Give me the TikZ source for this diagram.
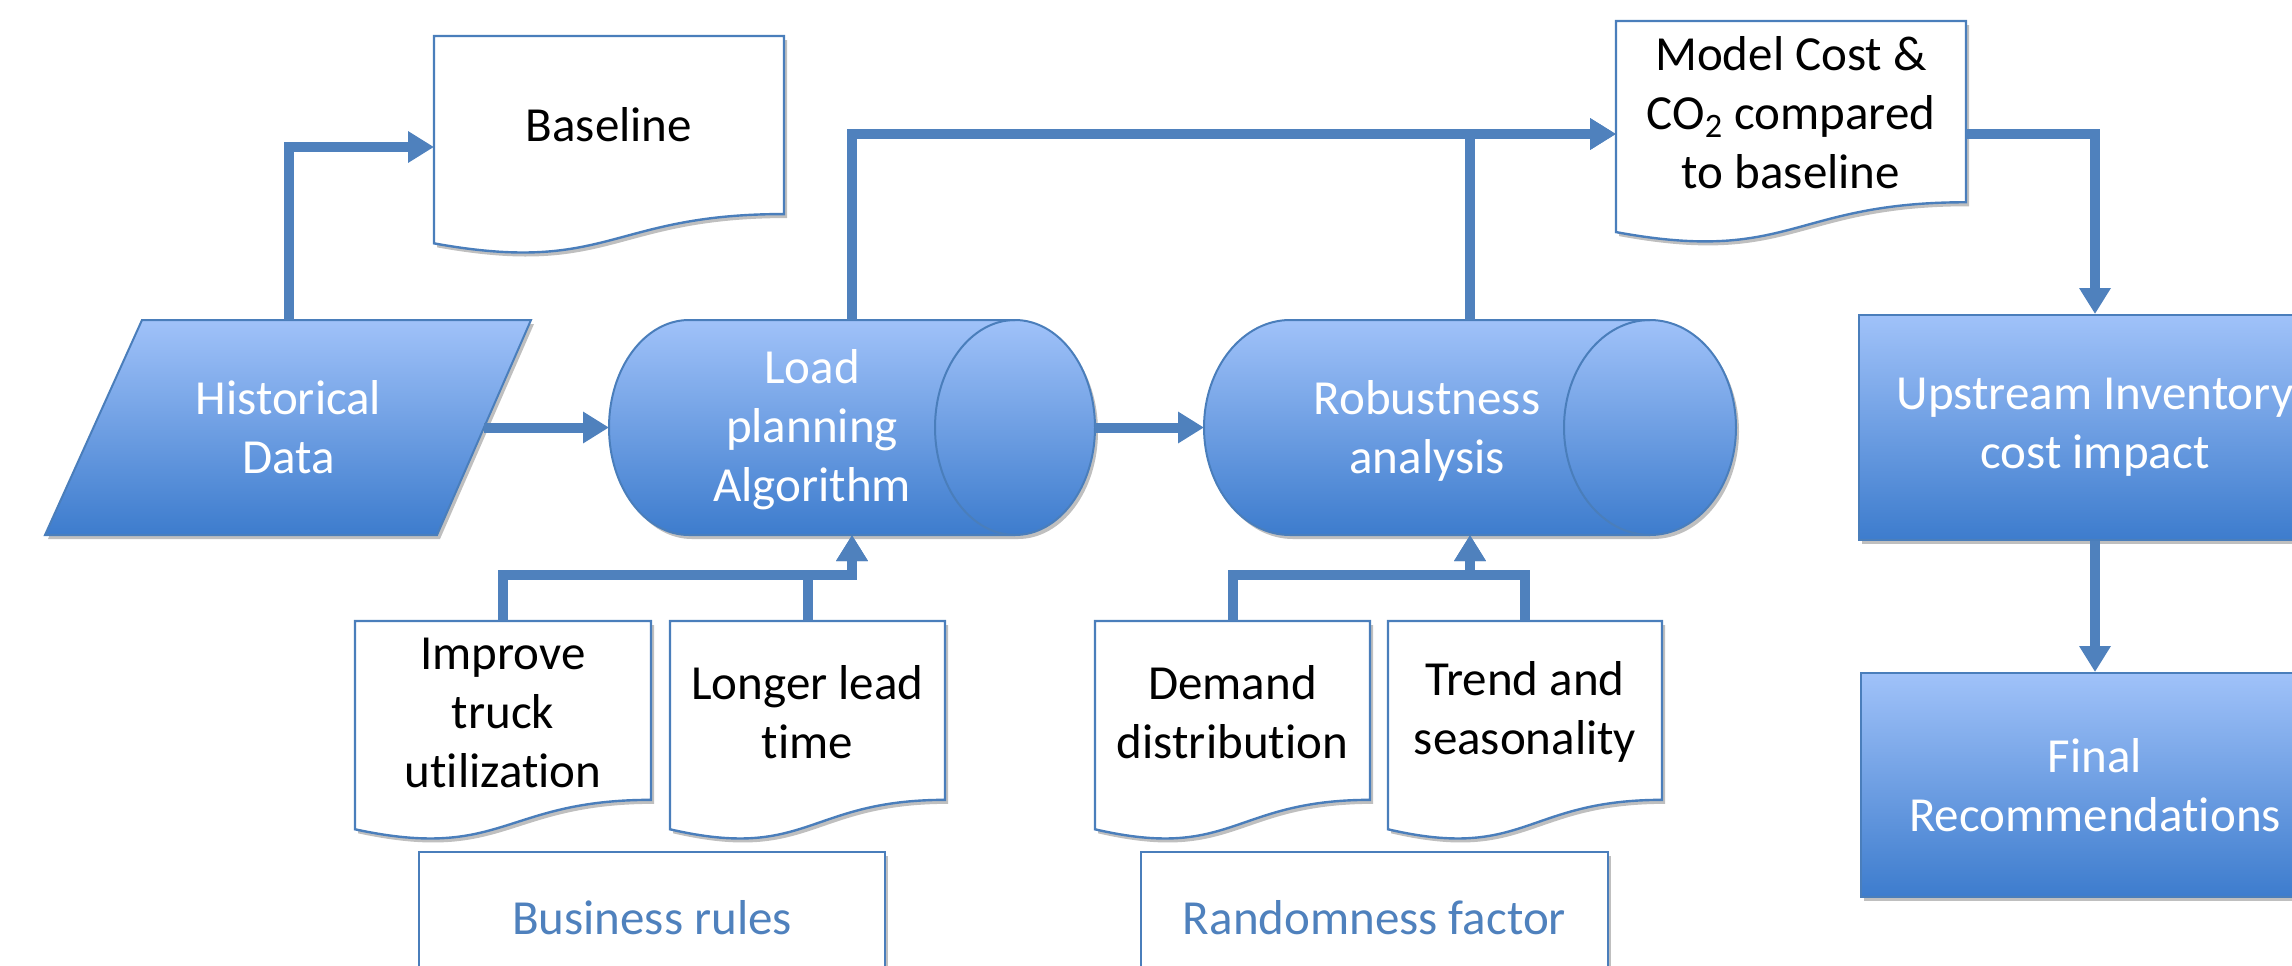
\documentclass[tikz,border=0pt]{standalone}
\usepackage{fontspec}
\setmainfont[Ligatures=NoCommon]{Carlito}
\usetikzlibrary{arrows.meta,shadows}
\definecolor{lineblue}{HTML}{4F81BD}
\definecolor{borderblue}{HTML}{4A7EBB}
\definecolor{gradtop}{HTML}{A0C2F9}
\definecolor{gradbot}{HTML}{3D7CCD}
\tikzset{
  conn/.style={line width=5pt, draw=lineblue, -{Triangle[width=15pt,length=13pt]}},
  shade/.style={drop shadow={shadow xshift=1.5pt,shadow yshift=-2pt,opacity=0.25,fill=black}},
  blueshape/.style={draw=borderblue, line width=1pt, top color=gradtop, bottom color=gradbot, shade},
  docshape/.style={draw=borderblue, line width=1.2pt, fill=white, shade},
  txt/.style={font=\fontsize{24.5}{29.5}\selectfont, align=center, inner sep=0pt},
  wtxt/.style={txt, text=white},
  anchorbox/.style={inner sep=0pt, outer sep=0pt, draw=none, fill=none},
}
\newcommand\cylpath[5]{% L R T B rx
 \path[blueshape] ({#1+#5},#3) -- ({#2-#5},#3)
   .. controls ({#2-#5+0.5523*#5},#3) and (#2,{(#3+#4)/2-0.5523*(#4-#3)/2}) .. (#2,{(#3+#4)/2})
   .. controls (#2,{(#3+#4)/2+0.5523*(#4-#3)/2}) and ({#2-#5+0.5523*#5},#4) .. ({#2-#5},#4)
   -- ({#1+#5},#4)
   .. controls ({#1+#5-0.5523*#5},#4) and (#1,{(#3+#4)/2+0.5523*(#4-#3)/2}) .. (#1,{(#3+#4)/2})
   .. controls (#1,{(#3+#4)/2-0.5523*(#4-#3)/2}) and ({#1+#5-0.5523*#5},#3) .. ({#1+#5},#3) -- cycle;
 \draw[draw=borderblue, line width=1pt] ({#2-#5},#3)
   .. controls ({#2-#5-0.5523*#5},#3) and ({#2-2*#5},{(#3+#4)/2-0.5523*(#4-#3)/2}) .. ({#2-2*#5},{(#3+#4)/2})
   .. controls ({#2-2*#5},{(#3+#4)/2+0.5523*(#4-#3)/2}) and ({#2-#5-0.5523*#5},#4) .. ({#2-#5},#4);
}
\newcommand\docpath[4]{% L T R H
 \path[docshape] (#1,#2) -- (#3,#2) -- (#3,{#2+0.802*#4})
   .. controls ({(#1+#3)/2},{#2+0.802*#4}) and ({(#1+#3)/2},{#2+1.077*#4}) .. (#1,{#2+0.934*#4}) -- cycle;
}
\begin{document}
\begin{tikzpicture}[x=0.5pt,y=-0.5pt]
\useasboundingbox (0,0) rectangle (2292,965);
\clip (0,0) rectangle (2292,965);

% Historical data (parallelogram)
\path[blueshape] (142,320) -- (531,320) -- (437,535) -- (45,535) -- cycle;
\node[anchorbox, wtxt, minimum width=195.5pt, minimum height=107.5pt] (hist) at (288.5,427.5) {Historical\\Data};

% Baseline document
\docpath{434}{36}{784}{222}
\node[anchorbox, minimum width=175pt, minimum height=111pt] (baseline) at (609,147) {};
\node[txt] (baselinetxt) at (609,125) {Baseline};

% Load planning cylinder
\cylpath{609}{1095}{320}{535}{80}
\node[anchorbox, minimum width=243pt, minimum height=107.5pt] (load) at (852,427.5) {};
\node[wtxt] (loadtxt) at (812,430) {Load\\planning\\Algorithm};

% Robustness cylinder
\cylpath{1204}{1736}{320}{535}{86}
\node[anchorbox, minimum width=266pt, minimum height=107.5pt] (rob) at (1470,427.5) {};
\node[wtxt] (robtxt) at (1427,431) {Robustness\\analysis};

% Model cost document
\docpath{1616}{21}{1966}{226}
\node[anchorbox, minimum width=175pt, minimum height=113pt] (model) at (1791,134) {};
\node[txt] (modeltxt) at (1791,113) {Model Cost \&\\CO\textsubscript{2} compared\\to baseline};

% Upstream inventory and final boxes
\node[blueshape, wtxt, minimum width=236pt, minimum height=112.5pt] (up) at (2095,427.5) {Upstream Inventory\\cost impact};
\node[blueshape, wtxt, minimum width=234pt, minimum height=112pt] (final) at (2095,785) {Final\\Recommendations};

% Business rule documents
\docpath{355}{621}{651}{223}
\node[anchorbox, minimum width=148pt, minimum height=111.5pt] (improve) at (503,732.5) {};
\node[txt] (improvetxt) at (503,713) {Improve\\truck\\utilization};
\docpath{670}{621}{945}{223}
\node[anchorbox, minimum width=137.5pt, minimum height=111.5pt] (longer) at (807.5,732.5) {};
\node[txt] (longertxt) at (807.5,712) {Longer lead\\time};

% Randomness documents
\docpath{1095}{621}{1370}{223}
\node[anchorbox, minimum width=137.5pt, minimum height=111.5pt] (demand) at (1232.5,732.5) {};
\node[txt] (demandtxt) at (1232.5,712) {Demand\\distribution};
\docpath{1388}{621}{1662}{223}
\node[anchorbox, minimum width=137pt, minimum height=111.5pt] (trend) at (1525,732.5) {};
\node[txt] (trendtxt) at (1525,712) {Trend and\\seasonality};

% Group label boxes
\node[draw=borderblue, line width=1.2pt, fill=white, shade, txt, text=lineblue, minimum width=233pt, minimum height=66pt] (busrules) at (652,918) {Business rules};
\node[draw=borderblue, line width=1.2pt, fill=white, shade, txt, text=lineblue, minimum width=233.5pt, minimum height=66pt] (randfac) at (1374.5,918) {Randomness factor};

% Connectors
\path (load.south) ++(0,40) coordinate (busbar);
\path (rob.south) ++(0,40) coordinate (randbar);
\draw[conn] (hist.north) |- (baseline.west);
\draw[conn] (hist.east) -- (load.west);
\draw[conn] (load.east) -- (rob.west);
\draw[conn] (load.north) |- (model.west);
\draw[conn] (rob.north) |- (model.west);
\draw[conn] (model.east) -| (up.north);
\draw[conn] (up.south) -- (final.north);
\draw[conn] (improve.north) |- (busbar) -- (load.south);
\draw[conn] (longer.north) |- (busbar) -- (load.south);
\draw[conn] (demand.north) |- (randbar) -- (rob.south);
\draw[conn] (trend.north) |- (randbar) -- (rob.south);
\end{tikzpicture}
\end{document}
